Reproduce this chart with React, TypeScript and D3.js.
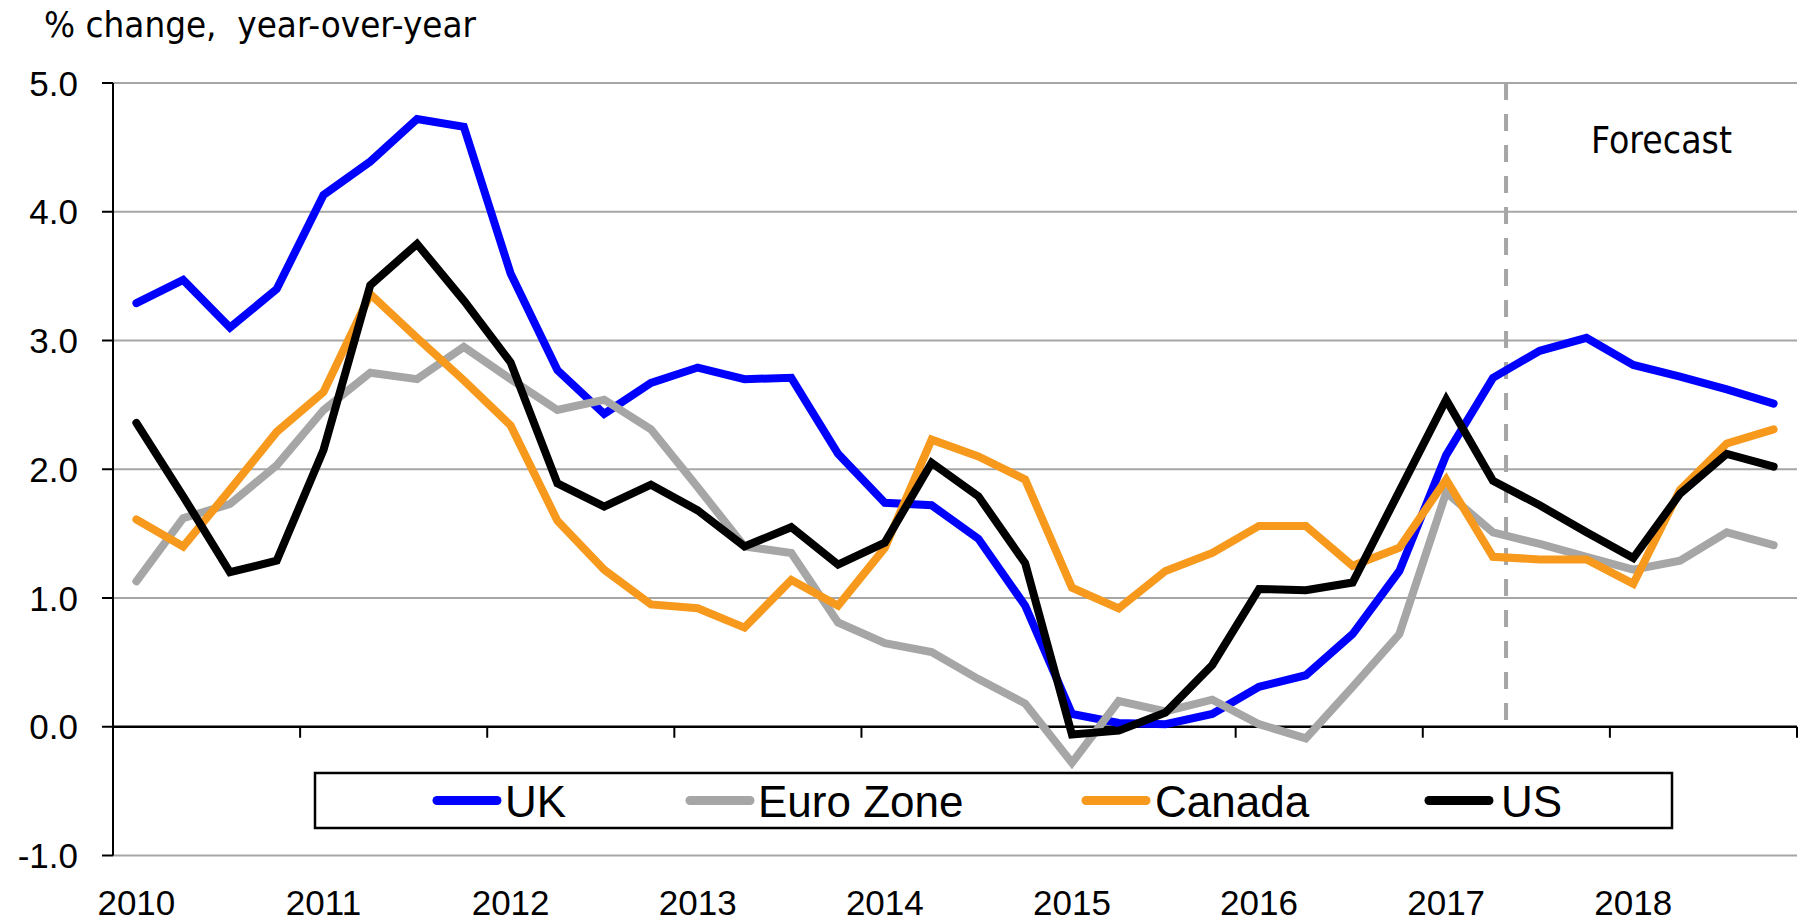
import React from "react";
import * as d3 from "d3";

const years = [2010, 2011, 2012, 2013, 2014, 2015, 2016, 2017, 2018];
const quarters = years.flatMap((y) => ["Q1", "Q2", "Q3", "Q4"].map((q) => `${y}${q}`));
const yTicks = [-1, 0, 1, 2, 3, 4, 5];

const uk = [3.29, 3.47, 3.1, 3.4, 4.13, 4.39, 4.72, 4.66, 3.52, 2.77, 2.43, 2.67, 2.79, 2.7, 2.71, 2.12, 1.74, 1.72, 1.46, 0.94, 0.1, 0.03, 0.02, 0.1, 0.31, 0.4, 0.72, 1.21, 2.11, 2.71, 2.92, 3.02, 2.81, 2.72, 2.62, 2.51];
const euroZone = [1.13, 1.62, 1.73, 2.03, 2.46, 2.75, 2.7, 2.95, 2.7, 2.46, 2.54, 2.31, 1.86, 1.4, 1.35, 0.81, 0.65, 0.58, 0.37, 0.18, -0.28, 0.2, 0.12, 0.21, 0.02, -0.09, 0.31, 0.72, 1.82, 1.51, 1.42, 1.32, 1.22, 1.29, 1.51, 1.41];
const canada = [1.61, 1.4, 1.84, 2.29, 2.6, 3.36, 3.02, 2.69, 2.34, 1.6, 1.22, 0.95, 0.92, 0.77, 1.14, 0.94, 1.39, 2.23, 2.1, 1.92, 1.08, 0.92, 1.21, 1.35, 1.56, 1.56, 1.25, 1.39, 1.92, 1.32, 1.3, 1.3, 1.11, 1.84, 2.2, 2.31];
const us = [2.36, 1.79, 1.2, 1.29, 2.15, 3.43, 3.75, 3.31, 2.83, 1.89, 1.71, 1.88, 1.68, 1.4, 1.55, 1.26, 1.43, 2.05, 1.79, 1.27, -0.06, -0.03, 0.11, 0.48, 1.07, 1.06, 1.12, 1.83, 2.54, 1.91, 1.72, 1.51, 1.31, 1.81, 2.12, 2.02];

const seriesNames = ["UK", "Euro Zone", "Canada", "US"];
const seriesValues = [uk, euroZone, canada, us];
const seriesColors = ["#0000FF", "#A6A6A6", "#F7991C", "#000000"];

// forecast boundary, in quarter-index units from the start of 2010
const forecastIndex = 29.78;

const W = 1799;
const H = 922;
const left = 113;
const right = 1797;
const top = 83;
const bottom = 855.5;

const NUM_FONT = "'Liberation Sans', Arial, sans-serif";
const TXT_FONT = "'DejaVu Sans', Verdana, sans-serif";

export default function App() {
  const x = d3.scaleBand<string>().domain(quarters).range([left, right]).padding(0);
  const bw = x.bandwidth();
  const y = d3.scaleLinear().domain([-1, 5]).range([bottom, top]);
  const xi = d3.scaleLinear().domain([0, quarters.length]).range([left, right]);

  const line = d3
    .line<number>()
    .x((_, i) => (x(quarters[i]) as number) + bw / 2)
    .y((d) => y(d));

  const legendSwatchX = [433, 686, 1082, 1425];
  const legendTextX = [505, 758, 1155, 1501];

  return (
    <svg width={W} height={H} style={{ position: "absolute", left: 0, top: 0, background: "#fff" }}>
      <rect x={0} y={0} width={W} height={H} fill="#fff" />
      {/* title */}
      <text
        x={44}
        y={37}
        fontFamily={TXT_FONT}
        fontSize={36}
        textLength={432}
        lengthAdjust="spacingAndGlyphs"
        style={{ whiteSpace: "pre" }}
        fill="#000"
      >
        {"% change,  year-over-year"}
      </text>

      {/* gridlines */}
      {yTicks
        .filter((t) => t !== 0)
        .map((t) => (
          <line key={t} x1={left} x2={right} y1={y(t)} y2={y(t)} stroke="#A6A6A6" strokeWidth={2} />
        ))}

      {/* forecast divider */}
      <line
        x1={xi(forecastIndex)}
        x2={xi(forecastIndex)}
        y1={y(5)}
        y2={y(0)}
        stroke="#A6A6A6"
        strokeWidth={4}
        strokeDasharray="17 14"
      />
      <text
        x={1591}
        y={152.7}
        fontFamily={TXT_FONT}
        fontSize={37}
        textLength={141}
        lengthAdjust="spacingAndGlyphs"
        fill="#000"
      >
        Forecast
      </text>

      {/* y axis */}
      <line x1={left} x2={left} y1={y(5)} y2={y(-1)} stroke="#000" strokeWidth={2} />
      {yTicks.map((t) => (
        <g key={t}>
          <line x1={left - 11} x2={left} y1={y(t)} y2={y(t)} stroke="#000" strokeWidth={2} />
          <text
            x={78}
            y={y(t) + 12.5}
            textAnchor="end"
            fontFamily={NUM_FONT}
            fontSize={35}
            fill="#000"
          >
            {t.toFixed(1)}
          </text>
        </g>
      ))}

      {/* x axis at zero */}
      <line x1={left} x2={right} y1={y(0)} y2={y(0)} stroke="#000" strokeWidth={2.5} />
      {years.map((yr, k) => (
        <line
          key={yr}
          x1={xi((k + 1) * 4)}
          x2={xi((k + 1) * 4)}
          y1={y(0)}
          y2={y(0) + 11}
          stroke="#000"
          strokeWidth={2}
        />
      ))}
      {years.map((yr) => (
        <text
          key={yr}
          x={(x(`${yr}Q1`) as number) + bw / 2}
          y={915}
          textAnchor="middle"
          fontFamily={NUM_FONT}
          fontSize={35}
          fill="#000"
        >
          {yr}
        </text>
      ))}

      {/* series */}
      {seriesValues.map((vals, s) => (
        <path
          key={seriesNames[s]}
          d={line(vals) as string}
          fill="none"
          stroke={seriesColors[s]}
          strokeWidth={8}
          strokeLinecap="round"
          strokeLinejoin="miter"
        />
      ))}

      {/* legend */}
      <rect x={315} y={773} width={1357} height={55} fill="#fff" stroke="#000" strokeWidth={2.5} />
      {seriesNames.map((name, s) => (
        <g key={name}>
          <line
            x1={legendSwatchX[s] + 4}
            x2={legendSwatchX[s] + 64}
            y1={800.5}
            y2={800.5}
            stroke={seriesColors[s]}
            strokeWidth={9}
            strokeLinecap="round"
          />
          <text x={legendTextX[s]} y={816.5} fontFamily={NUM_FONT} fontSize={44} fill="#000">
            {name}
          </text>
        </g>
      ))}
    </svg>
  );
}
